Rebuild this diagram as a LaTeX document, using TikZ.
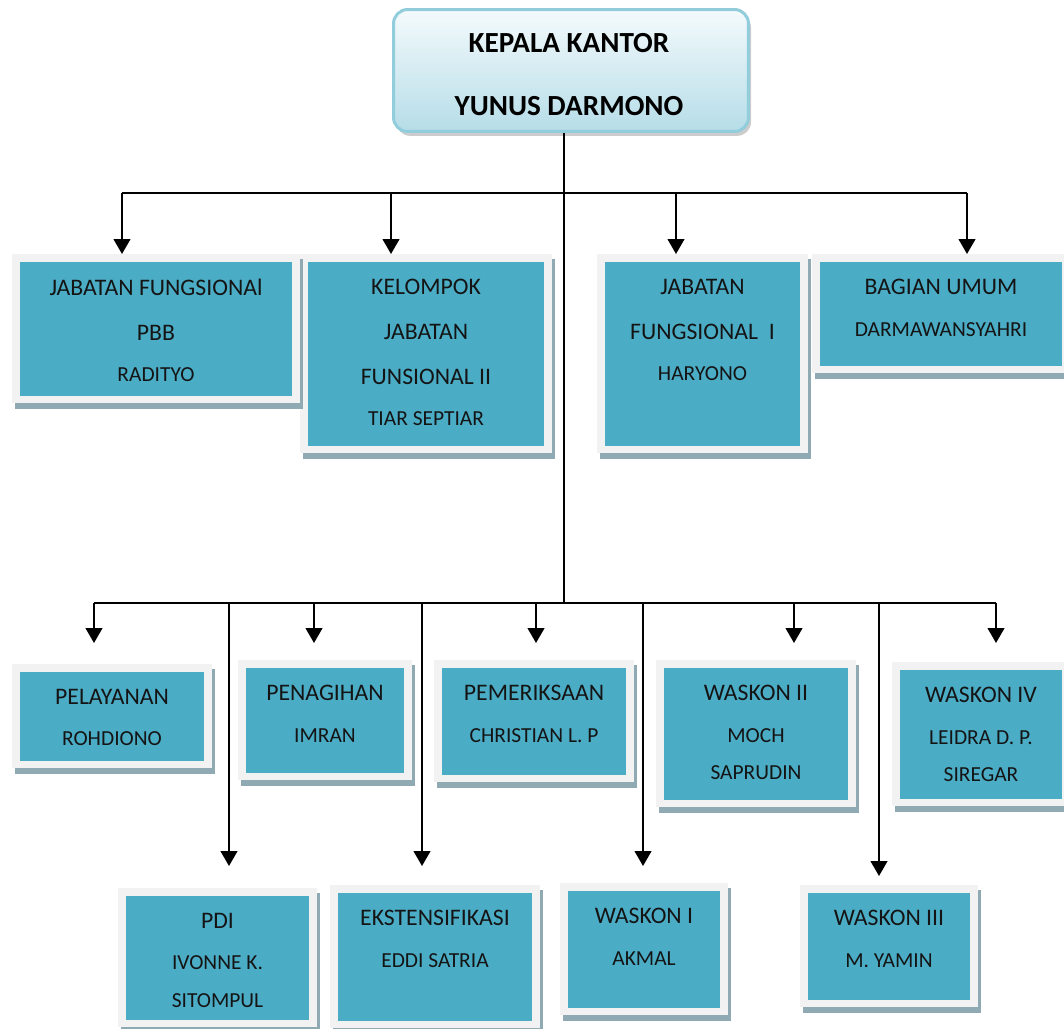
\documentclass[tikz,border=0pt]{standalone}
\usepackage{fontspec}
\setmainfont{Carlito}
\usetikzlibrary{arrows.meta,shadows}

\definecolor{unitblue}{HTML}{4BACC6}
\definecolor{framegray}{HTML}{F2F2F2}
\definecolor{shadowgray}{HTML}{90AAB3}
\definecolor{headtop}{HTML}{F4FAFC}
\definecolor{headbot}{HTML}{B6DDE8}
\definecolor{headline}{HTML}{92CDDC}

\newcommand{\titlesize}{\fontsize{13.5}{25.5}\selectfont}
\newcommand{\namesize}{\fontsize{12.2}{21.5}\selectfont}

\newcommand{\unitbox}[6]{%
  \fill[shadowgray] (#2+3,#3+5) rectangle (#4+3,#5+6);
  \node[unitframe, minimum width={(#4-#2)*0.02cm}, minimum height={(#5-#3)*0.02cm}] (#1) at (#2,#3) {};
  \fill[unitblue] (#2+8,#3+8) rectangle (#4-8,#5-7);
  \node[unittext] (#1-t) at ([yshift=-0.5cm]#1.north) {#6};
}

\begin{document}
\begin{tikzpicture}[x=0.02cm, y=-0.02cm,
    unitframe/.style={fill=framegray, inner sep=0pt, outer sep=0pt, anchor=north west},
    unittext/.style={anchor=north, align=center, inner sep=0pt, text=black!92, font=\titlesize},
    headbox/.style={rounded corners=8pt, minimum width=7.1cm, minimum height=2.44cm, draw=headline, line width=1.7pt, top color=headtop, bottom color=headbot, drop shadow={shadow xshift=1.5pt, shadow yshift=-2.5pt, fill=black!40, opacity=0.5}},
    headtext/.style={anchor=north, align=center, inner sep=0pt, font=\bfseries\fontsize{16.6}{35.7}\selectfont},
    link/.style={line width=1.1pt},
    arr/.style={link, -{Triangle[width=9.5pt,length=8.5pt]}}]

    \useasboundingbox (0,0) rectangle (1064,1028);

    \node[headbox] (head) at (571,70.5) {};
    \node[headtext] (head-t) at (569,33) {KEPALA KANTOR\\YUNUS DARMONO};

    \unitbox{kjf}{300}{254}{552}{453}{KELOMPOK\\JABATAN\\FUNSIONAL II\\[-2pt]\namesize TIAR SEPTIAR}
    \unitbox{fp}{12}{254}{300}{403}{JABATAN FUNGSIONAl\\PBB\\[-2pt]\namesize RADITYO}
    \unitbox{jf}{597}{254}{808}{453}{JABATAN\\FUNGSIONAL\ \ I\\[-2pt]\namesize HARYONO}
    \unitbox{umum}{812}{254}{1070}{373}{BAGIAN UMUM\\[-2pt]\namesize DARMAWANSYAHRI}

    \unitbox{pel}{12}{664}{212}{768}{PELAYANAN\\[-2pt]\namesize ROHDIONO}
    \unitbox{pen}{238}{660}{412}{780}{PENAGIHAN\\[-2pt]\namesize IMRAN}
    \unitbox{pem}{434}{660}{634}{782}{PEMERIKSAAN\\[-2pt]\namesize CHRISTIAN L. P}
    \unitbox{wtwo}{656}{660}{856}{807}{WASKON II\\[-2pt]\namesize MOCH\\[-4pt]\namesize SAPRUDIN}
    \unitbox{wfour}{892}{662}{1070}{806}{WASKON IV\\[-2pt]\namesize LEIDRA D. P.\\[-4pt]\namesize SIREGAR}

    \unitbox{pdi}{118}{888}{317}{1027}{PDI\\[-2pt]\namesize IVONNE K.\\[-4pt]\namesize SITOMPUL}
    \unitbox{eks}{330}{885}{540}{1028}{EKSTENSIFIKASI\\[-2pt]\namesize EDDI SATRIA}
    \unitbox{wone}{560}{883}{728}{1015}{WASKON I\\[-2pt]\namesize AKMAL}
    \unitbox{wthree}{800}{885}{978}{1007}{WASKON III\\[-2pt]\namesize M. YAMIN}

    \coordinate (u1) at (122,193);
    \coordinate (u2) at (391,193);
    \coordinate (u3) at (676,193);
    \coordinate (u4) at (967,193);
    \coordinate (trunk) at (564,603);

    \draw[link] (head.south -| trunk) -- (trunk);
    \draw[link] (u1) -- (u4);
    \draw[arr] (u1) -- (u1 |- fp.north);
    \draw[arr] (u2) -- (u2 |- kjf.north);
    \draw[arr] (u3) -- (u3 |- jf.north);
    \draw[arr] (u4) -- (u4 |- umum.north);

    \coordinate (v1) at (94,603);
    \coordinate (v2) at (229,603);
    \coordinate (v3) at (314,603);
    \coordinate (v4) at (422,603);
    \coordinate (v5) at (536,603);
    \coordinate (v6) at (643,603);
    \coordinate (v7) at (794,603);
    \coordinate (v8) at (879,603);
    \coordinate (v9) at (996,603);

    \draw[link] (v1) -- (v9);
    \draw[arr, shorten >=0.42cm] (v1) -- (v1 |- pel.north);
    \draw[arr, shorten >=0.34cm] (v3) -- (v3 |- pen.north);
    \draw[arr, shorten >=0.34cm] (v5) -- (v5 |- pem.north);
    \draw[arr, shorten >=0.34cm] (v7) -- (v7 |- wtwo.north);
    \draw[arr, shorten >=0.38cm] (v9) -- (v9 |- wfour.north);

    \draw[arr, shorten >=0.44cm] (v2) -- (v2 |- pdi.north);
    \draw[arr, shorten >=0.38cm] (v4) -- (v4 |- eks.north);
    \draw[arr, shorten >=0.34cm] (v6) -- (v6 |- wone.north);
    \draw[arr, shorten >=0.18cm] (v8) -- (v8 |- wthree.north);
\end{tikzpicture}
\end{document}
